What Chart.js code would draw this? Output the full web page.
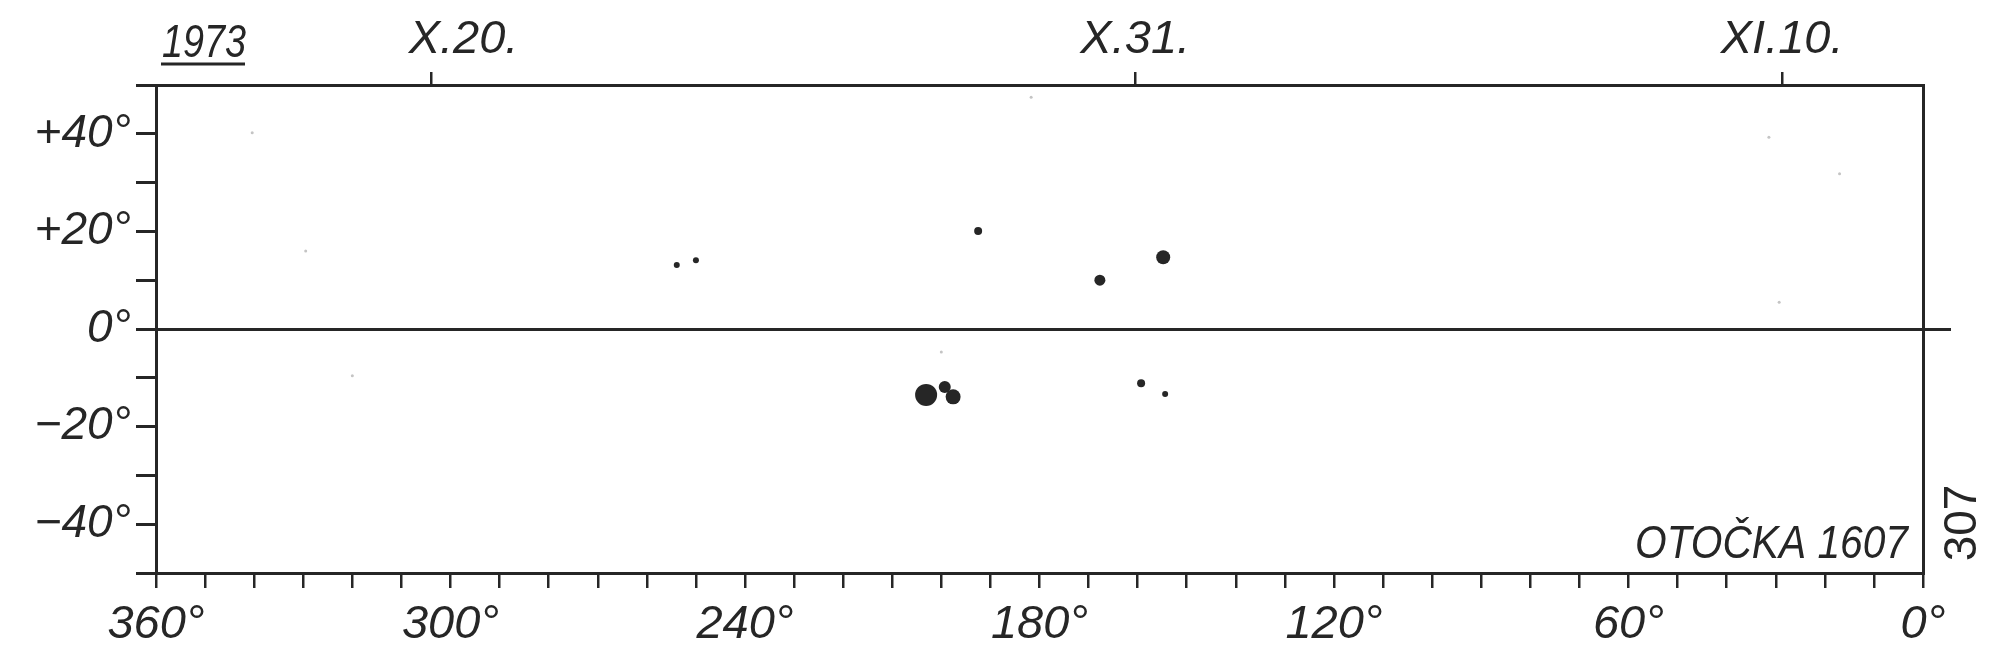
<!DOCTYPE html>
<html>
<head>
<meta charset="utf-8">
<script src="https://cdn.jsdelivr.net/npm/chart.js"></script>
<style>
  html, body { margin: 0; padding: 0; background: #fff; }
</style>
</head>
<body>
<canvas id="myChart" width="2000" height="662"></canvas>
<script>
// spot positions: heliographic longitude / latitude (deg)
const spotLon = [253.9, 250.0, 192.5, 167.7, 154.8, 203.1, 199.3, 197.6, 159.3, 154.4];
const spotLat = [13.1, 14.1, 20.1, 10.0, 14.7, -13.5, -11.9, -13.9, -11.1, -13.3];
// faint specks on the sheet
const faintLon = [181.7, 29.3, 31.4, 17.0, 340.4, 329.5, 320.0, 200.0];
const faintLat = [47.5, 5.5, 39.3, 31.8, 40.2, 16.0, -9.6, -4.7];
// dates on the top edge (central meridian longitude)
const dateLabels = ['     X.20.', 'X.31.', 'XI.10.'];
const dateLon = [304.0, 160.5, 28.7];
// labelled ticks
const lonLabels = [360, 300, 240, 180, 120, 60, 0];
const latLabels = [40, 20, 0, -20, -40];

// styles
const ink = '#262626';
const spotRadius = [3, 3, 4, 5.5, 7, 11, 6, 7.5, 4, 3];
const font = { family: "'Liberation Sans', Arial, sans-serif", size: 47, style: 'italic' };

const ctx = document.getElementById('myChart');

// narrow hand lettering: squeeze text to a given width
function narrowText(c, text, x, y, width) {
    const tw = c.measureText(text).width;
    c.save();
    c.translate(x, y);
    c.scale(width / tw, 1);
    c.fillText(text, 0, 0);
    c.restore();
}

// extra lettering on the sheet
const lettering = {
    id: 'lettering',
    afterDraw(chart) {
        const c = chart.ctx;
        const a = chart.chartArea;
        c.save();
        c.fillStyle = ink;
        c.strokeStyle = ink;
        c.font = 'italic 47px "Liberation Sans", Arial, sans-serif';

        // year, underlined
        c.textAlign = 'left';
        c.textBaseline = 'alphabetic';
        narrowText(c, '1973', a.left + 6, 57, 84);
        c.lineWidth = 3;
        c.beginPath();
        c.moveTo(a.left + 5, 64);
        c.lineTo(a.left + 89, 64);
        c.stroke();

        // rotation number
        c.font = 'italic 46px "Liberation Sans", Arial, sans-serif';
        c.textAlign = 'right';
        narrowText(c, 'OTOČKA 1607', a.right - 15, a.bottom - 15, 273);

        // sheet number, rotated
        c.font = '46px "Liberation Sans", Arial, sans-serif';
        c.translate(a.right + 40, a.bottom - 50);
        c.rotate(-Math.PI / 2);
        c.textAlign = 'center';
        c.textBaseline = 'middle';
        c.fillText('307', 0, 0);
        c.restore();
    }
};

new Chart(ctx, {
    type: 'scatter',
    data: {
        datasets: [{
            label: 'spots',
            data: spotLon.map((x, i) => ({ x: x, y: spotLat[i] })),
            backgroundColor: ink,
            borderWidth: 0,
            pointRadius: spotRadius,
            xAxisID: 'x',
            yAxisID: 'y'
        }, {
            label: 'faint',
            data: faintLon.map((x, i) => ({ x: x, y: faintLat[i] })),
            backgroundColor: '#c4c4c4',
            borderWidth: 0,
            pointRadius: 1.5,
            xAxisID: 'x',
            yAxisID: 'y'
        }]
    },
    options: {
        responsive: false,
        animation: false,
        layout: { padding: 0 },
        plugins: {
            legend: { display: false },
            tooltip: { enabled: false }
        },
        scales: {
            x: {
                type: 'linear',
                position: 'bottom',
                reverse: true,
                min: 0,
                max: 360,
                ticks: {
                    stepSize: 10,
                    autoSkip: false,
                    maxRotation: 0,
                    color: ink,
                    font: font,
                    padding: 9,
                    callback: v => lonLabels.includes(v) ? v + '°' : ''
                },
                grid: { drawOnChartArea: false, tickLength: 15, tickColor: ink, lineWidth: 2.5 },
                border: { color: ink, width: 3 },
                afterFit: s => { s.height = 89; }
            },
            x2: {
                type: 'linear',
                position: 'top',
                reverse: true,
                min: 0,
                max: 360,
                afterBuildTicks: s => { s.ticks = dateLon.map(v => ({ value: v })); },
                ticks: {
                    autoSkip: false,
                    maxRotation: 0,
                    color: ink,
                    font: font,
                    padding: 4,
                    callback: (v, i) => dateLabels[i]
                },
                grid: { drawOnChartArea: false, tickLength: 13, tickColor: ink, lineWidth: 2.5 },
                border: { color: ink, width: 3 },
                afterFit: s => { s.height = 85; }
            },
            y: {
                type: 'linear',
                position: 'left',
                min: -50,
                max: 50,
                ticks: {
                    stepSize: 10,
                    autoSkip: false,
                    color: ink,
                    font: { ...font, size: 46 },
                    padding: 5,
                    callback: v => latLabels.includes(v)
                        ? (v > 0 ? '+' : v < 0 ? '\u2212' : '') + Math.abs(v) + '°'
                        : ''
                },
                grid: {
                    drawOnChartArea: true,
                    color: c => (c.tick && c.tick.value === 0) ? ink : 'rgba(0,0,0,0)',
                    tickColor: ink,
                    tickLength: 20,
                    lineWidth: 3
                },
                border: { color: ink, width: 3 },
                afterFit: s => { s.width = 156; }
            },
            y2: {
                type: 'linear',
                position: 'right',
                min: -50,
                max: 50,
                afterBuildTicks: s => { s.ticks = [{ value: 0 }]; },
                ticks: { display: false },
                grid: { drawOnChartArea: false, tickLength: 28, tickColor: ink, lineWidth: 3 },
                border: { color: ink, width: 3 },
                afterFit: s => { s.width = 77; }
            }
        }
    },
    plugins: [lettering]
});
</script>
</body>
</html>
